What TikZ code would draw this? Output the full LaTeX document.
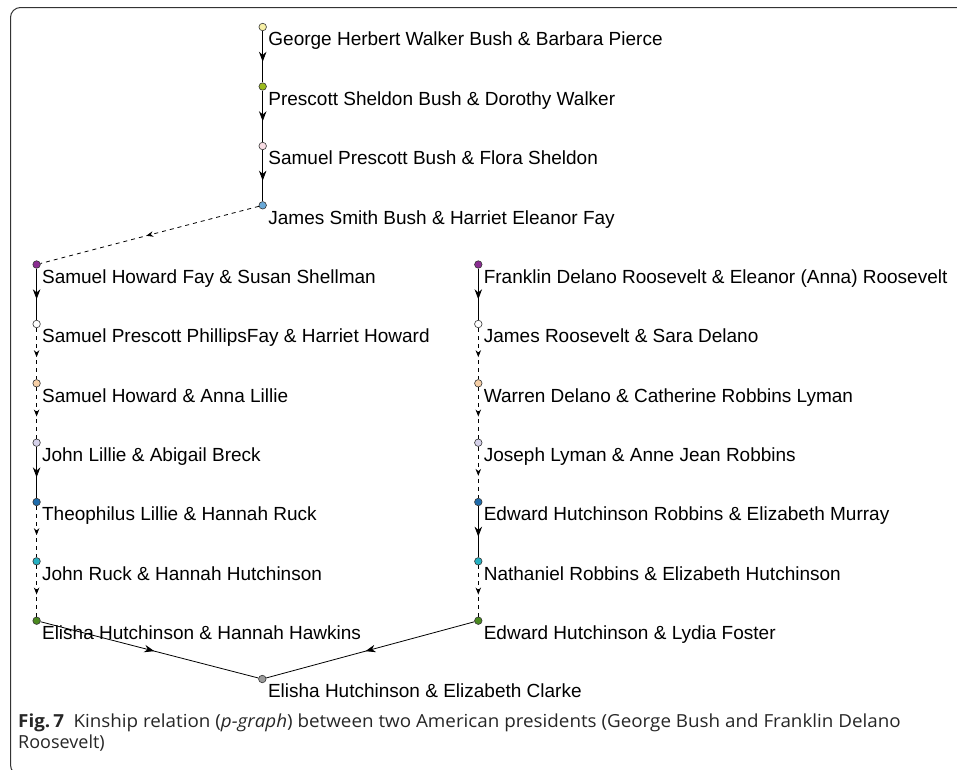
\documentclass[tikz,border=0pt]{standalone}
\usepackage{fontspec}
\setmainfont{Liberation Sans}
\newfontfamily\capfont{Open Sans}
\usetikzlibrary{arrows.meta,decorations.markings,calc}

\definecolor{dpaleyellow}{HTML}{F7F0A6}
\definecolor{dlime}{HTML}{9BBB1E}
\definecolor{dpink}{HTML}{F9DDE4}
\definecolor{dskyblue}{HTML}{69A9D8}
\definecolor{dpurple}{HTML}{8B2D92}
\definecolor{dpeach}{HTML}{F6CFA6}
\definecolor{dlavender}{HTML}{D6D2EA}
\definecolor{dblue}{HTML}{1F6CAB}
\definecolor{dteal}{HTML}{26B1C2}
\definecolor{dgreen}{HTML}{4B8A1F}
\definecolor{dgray}{HTML}{9A9A9A}

\newcommand\capsetup{\capfont\fontsize{18}{21}\selectfont}

\begin{document}
\begin{tikzpicture}[x=1pt,y=-1pt,
    dot/.style={circle,draw=black!80,line width=0.6pt,inner sep=0pt,minimum size=7.5pt},
    who/.style={anchor=base west,inner sep=0pt,font=\fontsize{19}{22}\selectfont},
    solidedge/.style={black,line width=0.8pt,
        decoration={markings,mark=at position 0.5 with {\arrow[xshift=5pt]{Stealth[length=10pt,width=7.5pt]}}},
        postaction={decorate}},
    dashedge/.style={black,line width=0.8pt,dash pattern=on 4pt off 4pt,
        decoration={markings,mark=at position 0.5 with {\arrow[xshift=3.5pt]{Stealth[length=7pt,width=5.5pt]}}},
        postaction={decorate}},
    captext/.style={anchor=base west,inner sep=0pt,text=black!85,font=\capsetup}]
    \useasboundingbox (0,0) rectangle (957,769);
    % frame
    \begin{scope}
        \clip (0,0) rectangle (957,769);
        \draw [black!80, line width=1pt, rounded corners=10pt] (970,7.5) -- (10.5,7.5) -- (10.5,775) -- (970,775);
    \end{scope}
    % Bush line
    \node [dot, fill=dpaleyellow] (ghwb) at (262.7,27) {};
    \node [dot, fill=dlime] (psb) at (262.7,86.5) {};
    \node [dot, fill=dpink] (spb) at (262.7,146) {};
    \node [dot, fill=dskyblue] (jsb) at (262.7,205.3) {};
    \node [who] (ghwb-t) at ($(ghwb)+(5.5,18.8)$) {George Herbert Walker Bush \& Barbara Pierce};
    \node [who] (psb-t) at ($(psb)+(5.5,18.8)$) {Prescott Sheldon Bush \& Dorothy Walker};
    \node [who] (spb-t) at ($(spb)+(5.5,18.8)$) {Samuel Prescott Bush \& Flora Sheldon};
    \node [who] (jsb-t) at ($(jsb)+(5.5,18.8)$) {James Smith Bush \& Harriet Eleanor Fay};
    % left column
    \node [dot, fill=dpurple] (shf) at (36.6,264.5) {};
    \node [dot, fill=white] (sppf) at (36.6,324) {};
    \node [dot, fill=dpeach] (sh) at (36.6,383.3) {};
    \node [dot, fill=dlavender] (jl) at (36.6,442.7) {};
    \node [dot, fill=dblue] (tl) at (36.6,502) {};
    \node [dot, fill=dteal] (jr) at (36.6,561.3) {};
    \node [dot, fill=dgreen] (ehh) at (36.6,620.7) {};
    \node [who] (shf-t) at ($(shf)+(5.3,18.8)$) {Samuel Howard Fay \& Susan Shellman};
    \node [who] (sppf-t) at ($(sppf)+(5.3,18.8)$) {Samuel Prescott PhillipsFay \& Harriet Howard};
    \node [who] (sh-t) at ($(sh)+(5.3,18.8)$) {Samuel Howard \& Anna Lillie};
    \node [who] (jl-t) at ($(jl)+(5.3,18.8)$) {John Lillie \& Abigail Breck};
    \node [who] (tl-t) at ($(tl)+(5.3,18.8)$) {Theophilus Lillie \& Hannah Ruck};
    \node [who] (jr-t) at ($(jr)+(5.3,18.8)$) {John Ruck \& Hannah Hutchinson};
    \node [who] (ehh-t) at ($(ehh)+(5.3,18.8)$) {Elisha Hutchinson \& Hannah Hawkins};
    % right column
    \node [dot, fill=dpurple] (fdr) at (478.3,264.5) {};
    \node [dot, fill=white] (jrs) at (478.3,324) {};
    \node [dot, fill=dpeach] (wd) at (478.3,383.3) {};
    \node [dot, fill=dlavender] (jly) at (478.3,442.7) {};
    \node [dot, fill=dblue] (ehr) at (478.3,502) {};
    \node [dot, fill=dteal] (nr) at (478.3,561.3) {};
    \node [dot, fill=dgreen] (ehl) at (478.3,620.7) {};
    \node [who] (fdr-t) at ($(fdr)+(5.3,18.8)$) {Franklin Delano Roosevelt \& Eleanor (Anna) Roosevelt};
    \node [who] (jrs-t) at ($(jrs)+(5.3,18.8)$) {James Roosevelt \& Sara Delano};
    \node [who] (wd-t) at ($(wd)+(5.3,18.8)$) {Warren Delano \& Catherine Robbins Lyman};
    \node [who] (jly-t) at ($(jly)+(5.3,18.8)$) {Joseph Lyman \& Anne Jean Robbins};
    \node [who] (ehr-t) at ($(ehr)+(5.3,18.8)$) {Edward Hutchinson Robbins \& Elizabeth Murray};
    \node [who] (nr-t) at ($(nr)+(5.3,18.8)$) {Nathaniel Robbins \& Elizabeth Hutchinson};
    \node [who] (ehl-t) at ($(ehl)+(5.3,18.8)$) {Edward Hutchinson \& Lydia Foster};
    % common ancestor
    \node [dot, fill=dgray] (ehc) at (262.3,679) {};
    \node [who] (ehc-t) at ($(ehc)+(5.5,18.8)$) {Elisha Hutchinson \& Elizabeth Clarke};
    % edges
    \draw [solidedge] (ghwb) -- (psb);
    \draw [solidedge] (psb) -- (spb);
    \draw [solidedge] (spb) -- (jsb);
    \draw [dashedge] (jsb) -- (shf);
    \draw [solidedge] (shf) -- (sppf);
    \draw [dashedge] (sppf) -- (sh);
    \draw [dashedge] (sh) -- (jl);
    \draw [solidedge] (jl) -- (tl);
    \draw [dashedge] (tl) -- (jr);
    \draw [dashedge] (jr) -- (ehh);
    \draw [solidedge] (ehh) -- (ehc);
    \draw [solidedge] (fdr) -- (jrs);
    \draw [dashedge] (jrs) -- (wd);
    \draw [dashedge] (wd) -- (jly);
    \draw [dashedge] (jly) -- (ehr);
    \draw [solidedge] (ehr) -- (nr);
    \draw [dashedge] (nr) -- (ehl);
    \draw [solidedge] (ehl) -- (ehc);
    % caption
    \node [captext] (cap1) at (18,727) {\scalebox{1.045}[1]{\textbf{Fig.\,7}\hspace{9pt}Kinship relation (\textit{p-graph}) between two American presidents (George Bush and Franklin Delano}};
    \node [captext] (cap2) at (18,748) {Roosevelt)};
\end{tikzpicture}
\end{document}
